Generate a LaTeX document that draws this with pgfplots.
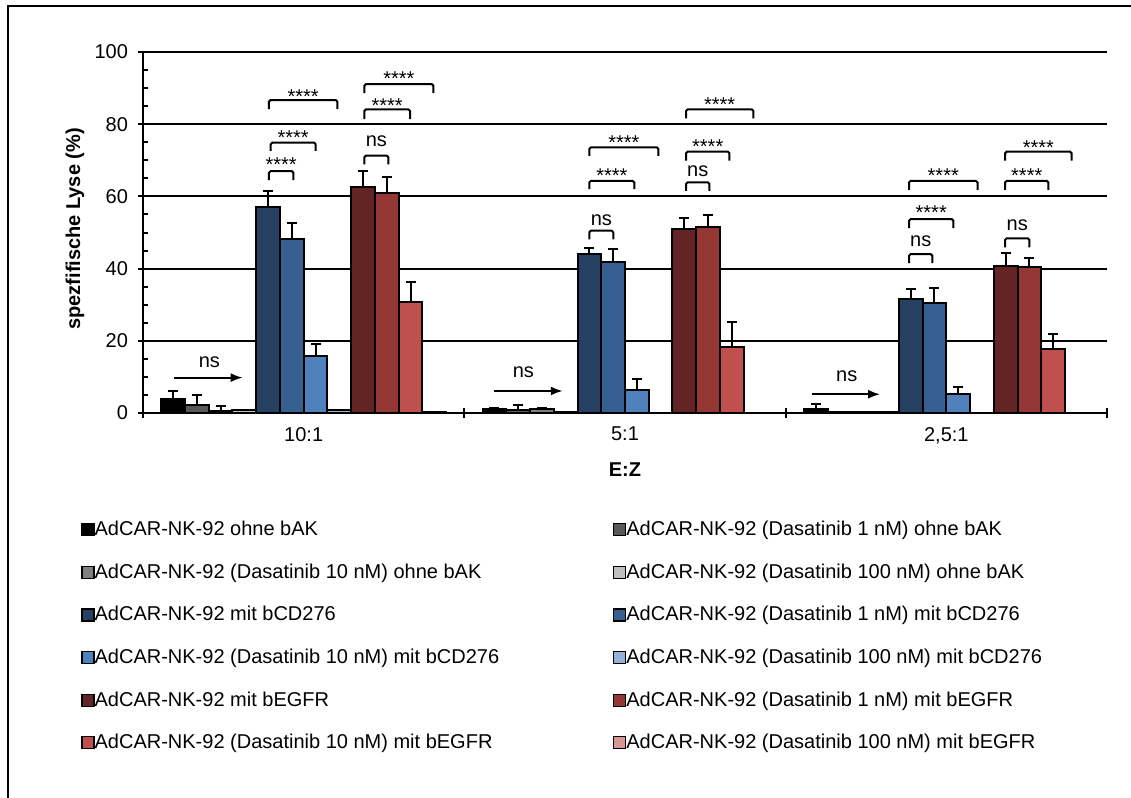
\documentclass[border=0pt]{standalone}
\usepackage{fontspec}
\setmainfont{Liberation Sans}
\usepackage{pgfplots}
\pgfplotsset{compat=1.18}
\usepackage{pgfplotstable}
\usetikzlibrary{arrows.meta}

\definecolor{c1}{HTML}{000000}
\definecolor{c2}{HTML}{595959}
\definecolor{c3}{HTML}{7F7F7F}
\definecolor{c4}{HTML}{BFBFBF}
\definecolor{c5}{HTML}{254061}
\definecolor{c6}{HTML}{366092}
\definecolor{c7}{HTML}{4F81BD}
\definecolor{c8}{HTML}{95B3D7}
\definecolor{c9}{HTML}{632523}
\definecolor{c10}{HTML}{953735}
\definecolor{c11}{HTML}{C0504D}
\definecolor{c12}{HTML}{D99694}

% one row per E:Z ratio (0 = 10:1, 1 = 5:1, 2 = 2,5:1)
\pgfplotstableread{
x y1  e1  y2  e2  y3  e3  y4  y5   e5  y6   e6  y7   e7  y8  y9   e9  y10  e10 y11  e11 y12
0 4.0 2.1 2.2 2.8 0.6 1.4 0.7 57.2 4.4 48.2 4.4 15.9 3.1 0.8 62.7 4.4 60.9 4.6 30.7 5.7 0.3
1 1.0 0.3 0.8 1.4 1.0 0.3 0.3 44.0 1.8 41.9 3.5 6.4  3.0 0.1 50.9 3.0 51.6 3.2 18.4 6.7 0.1
2 1.0 1.4 0.3 0.0 0.3 0.0 0.2 31.5 2.8 30.4 4.1 5.3  2.0 0.0 40.7 3.7 40.4 2.5 17.7 4.1 0.0
}\data

\pgfplotsset{
  bstyle/.style={fill=#1, draw=black, line width=1pt,
    error bars/.cd, y dir=plus, y explicit,
    error bar style={line width=1pt, black},
    error mark options={rotate=90, black, line width=1pt, mark size=2.5pt}},
  nstyle/.style={fill=#1, draw=black, line width=1pt},
}

\newcommand{\brk}[5]{%
  \draw[line width=1pt, rounded corners=0.8pt] (axis cs:#1,#4) -- (axis cs:#1,#3) -- (axis cs:#2,#3) -- (axis cs:#2,#4);
  \node[anchor=base, inner sep=0pt] at (axis cs:{(#1+#2)/2},#5) {****};}
\newcommand{\nsbrk}[5]{%
  \draw[line width=1pt, rounded corners=0.8pt] (axis cs:#1,#4) -- (axis cs:#1,#3) -- (axis cs:#2,#3) -- (axis cs:#2,#4);
  \node[anchor=base, inner sep=0pt] at (axis cs:{(#1+#2)/2},#5) {ns};}

\begin{document}
\begin{tikzpicture}
\useasboundingbox (0,0) rectangle (565.5pt,-399pt);
\draw[line width=1pt] (4pt,-399pt) -- (4pt,-3pt) -- (565.5pt,-3pt);
\begin{axis}[
    at={(71.5pt,-206.5pt)}, anchor=south west,
    scale only axis, width=482pt, height=180.5pt,
    font=\fontsize{10}{12}\selectfont,
    xmin=-0.5, xmax=2.5, ymin=0, ymax=100,
    axis lines*=left,
    axis line style={line width=1pt},
    ybar=0pt, bar width=0.0739,
    ytick={0,20,...,100}, minor y tick num=3,
    ymajorgrids, major grid style={black, line width=1pt},
    ytick align=center, major tick length=5pt, minor tick length=2.5pt,
    minor y tick style={xshift=1.25pt},
    every tick/.style={black, line width=1pt},
    yticklabel style={xshift=-1.5pt},
    xtick={-0.5,0.5,1.5,2.5}, xticklabels={}, xtick align=center,
    extra x ticks={0,1,2}, extra x tick labels={10:1,5:1,{2,5:1}},
    extra x tick style={major tick length=0pt},
    xticklabel style={yshift=-3.5pt},
    /pgf/number format/assume math mode=true,
    xlabel={\bfseries E:Z}, ylabel={\bfseries spezfifische Lyse (\%)},
    xlabel style={at={(axis description cs:0.5,-0.158)}, anchor=center},
    ylabel style={at={(axis description cs:-0.0705,0.51)}, anchor=center},
    legend columns=2, legend cell align=left,
    legend style={at={(-0.0643,-0.297)}, anchor=north west, draw=none, fill=none,
      inner sep=0pt, column sep=0pt, row sep=11.3pt,
      /tikz/column 2/.style={column sep=57pt},
      nodes={inner sep=0pt, text height=7.5pt, text depth=2.5pt}},
    legend image code/.code={\draw[#1, line width=0.6pt, draw=black] (0pt,-2.6pt) rectangle (6pt,3.4pt);},
    clip=false,
  ]
  \addplot[bstyle=c1] table[x=x, y=y1, y error=e1] {\data};
  \addlegendentry{AdCAR-NK-92 ohne bAK}
  \addplot[bstyle=c2] table[x=x, y=y2, y error=e2] {\data};
  \addlegendentry{AdCAR-NK-92 (Dasatinib 1 nM) ohne bAK}
  \addplot[bstyle=c3] table[x=x, y=y3, y error=e3] {\data};
  \addlegendentry{AdCAR-NK-92 (Dasatinib 10 nM) ohne bAK}
  \addplot[nstyle=c4] table[x=x, y=y4] {\data};
  \addlegendentry{AdCAR-NK-92 (Dasatinib 100 nM) ohne bAK}
  \addplot[bstyle=c5] table[x=x, y=y5, y error=e5] {\data};
  \addlegendentry{AdCAR-NK-92 mit bCD276}
  \addplot[bstyle=c6] table[x=x, y=y6, y error=e6] {\data};
  \addlegendentry{AdCAR-NK-92 (Dasatinib 1 nM) mit bCD276}
  \addplot[bstyle=c7] table[x=x, y=y7, y error=e7] {\data};
  \addlegendentry{AdCAR-NK-92 (Dasatinib 10 nM) mit bCD276}
  \addplot[nstyle=c8] table[x=x, y=y8] {\data};
  \addlegendentry{AdCAR-NK-92 (Dasatinib 100 nM) mit bCD276}
  \addplot[bstyle=c9] table[x=x, y=y9, y error=e9] {\data};
  \addlegendentry{AdCAR-NK-92 mit bEGFR}
  \addplot[bstyle=c10] table[x=x, y=y10, y error=e10] {\data};
  \addlegendentry{AdCAR-NK-92 (Dasatinib 1 nM) mit bEGFR}
  \addplot[bstyle=c11] table[x=x, y=y11, y error=e11] {\data};
  \addlegendentry{AdCAR-NK-92 (Dasatinib 10 nM) mit bEGFR}
  \addplot[nstyle=c12] table[x=x, y=y12] {\data};
  \addlegendentry{AdCAR-NK-92 (Dasatinib 100 nM) mit bEGFR}

  % significance brackets, 10:1
  \brk{-0.108}{-0.032}{67.0}{64.5}{66.9}
  \brk{-0.1025}{0.0375}{74.9}{72.6}{74.3}
  \brk{-0.108}{0.105}{86.7}{84.2}{85.8}
  \nsbrk{0.189}{0.2635}{71.3}{68.9}{73.75}
  \brk{0.189}{0.331}{84.1}{81.4}{83.3}
  \brk{0.189}{0.4035}{91.1}{88.6}{90.7}
  % 5:1
  \nsbrk{0.889}{0.9637}{50.5}{48.1}{52.0}
  \brk{0.889}{1.029}{64.3}{62.0}{63.8}
  \brk{0.889}{1.104}{73.6}{71.2}{73.1}
  \nsbrk{1.190}{1.2625}{63.9}{61.5}{65.55}
  \brk{1.190}{1.325}{72.4}{69.9}{71.8}
  \brk{1.190}{1.3995}{84.1}{81.6}{83.5}
  % 2,5:1
  \nsbrk{1.884}{1.9566}{44.0}{41.5}{46.05}
  \brk{1.884}{2.022}{53.7}{51.2}{53.5}
  \brk{1.884}{2.097}{64.3}{61.8}{63.9}
  \nsbrk{2.183}{2.2585}{48.4}{45.9}{50.65}
  \brk{2.183}{2.3176}{64.3}{61.8}{63.9}
  \brk{2.183}{2.390}{72.4}{69.9}{71.7}

  % ns arrows over the controls
  \draw[line width=1pt, -{Latex[length=6pt, width=4.5pt]}] (axis cs:-0.4026,9.8) -- (axis cs:-0.1897,9.8);
  \node[anchor=base, inner sep=0pt] at (axis cs:-0.2935,12.5) {ns};
  \draw[line width=1pt, -{Latex[length=6pt, width=4.5pt]}] (axis cs:0.5925,6.1) -- (axis cs:0.8063,6.1);
  \node[anchor=base, inner sep=0pt] at (axis cs:0.6836,9.7) {ns};
  \draw[line width=1pt, -{Latex[length=6pt, width=4.5pt]}] (axis cs:1.581,5.2) -- (axis cs:1.794,5.2);
  \node[anchor=base, inner sep=0pt] at (axis cs:1.690,8.8) {ns};
\end{axis}
\end{tikzpicture}
\end{document}
